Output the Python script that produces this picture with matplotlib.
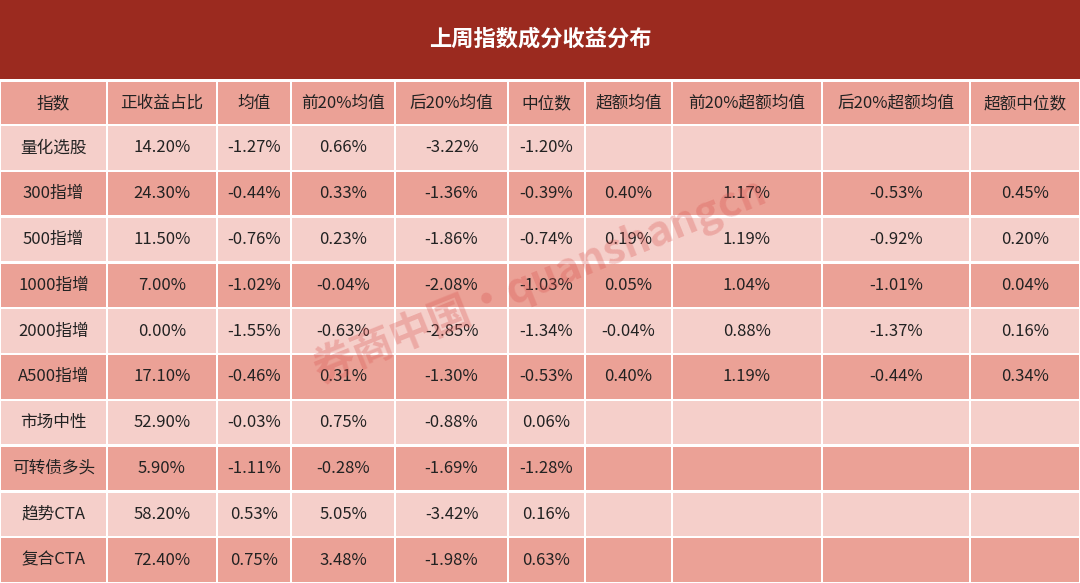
import matplotlib
matplotlib.use('Agg')
import matplotlib.pyplot as plt
from matplotlib.patches import Rectangle

plt.rcParams['font.family'] = ['Noto Sans CJK SC', 'DejaVu Sans']

title = "上周指数成分收益分布"
headers = ["指数", "正收益占比", "均值", "前20%均值", "后20%均值", "中位数",
           "超额均值", "前20%超额均值", "后20%超额均值", "超额中位数"]
names = ["量化选股", "300指增", "500指增", "1000指增", "2000指增", "A500指增",
         "市场中性", "可转债多头", "趋势CTA", "复合CTA"]
pos_ratio = ["14.20%", "24.30%", "11.50%", "7.00%", "0.00%", "17.10%", "52.90%", "5.90%", "58.20%", "72.40%"]
mean = ["-1.27%", "-0.44%", "-0.76%", "-1.02%", "-1.55%", "-0.46%", "-0.03%", "-1.11%", "0.53%", "0.75%"]
top20 = ["0.66%", "0.33%", "0.23%", "-0.04%", "-0.63%", "0.31%", "0.75%", "-0.28%", "5.05%", "3.48%"]
bot20 = ["-3.22%", "-1.36%", "-1.86%", "-2.08%", "-2.85%", "-1.30%", "-0.88%", "-1.69%", "-3.42%", "-1.98%"]
median = ["-1.20%", "-0.39%", "-0.74%", "-1.03%", "-1.34%", "-0.53%", "0.06%", "-1.28%", "0.16%", "0.63%"]
ex_mean = ["", "0.40%", "0.19%", "0.05%", "-0.04%", "0.40%", "", "", "", ""]
ex_top20 = ["", "1.17%", "1.19%", "1.04%", "0.88%", "1.19%", "", "", "", ""]
ex_bot20 = ["", "-0.53%", "-0.92%", "-1.01%", "-1.37%", "-0.44%", "", "", "", ""]
ex_median = ["", "0.45%", "0.20%", "0.04%", "0.16%", "0.34%", "", "", "", ""]
columns = [names, pos_ratio, mean, top20, bot20, median, ex_mean, ex_top20, ex_bot20, ex_median]

col_edges = [0, 107, 217, 291, 395, 508, 585, 672, 822, 970, 1080]
title_h = 79
header_top, header_bot = 82, 125
row_h = (583 - header_bot) / len(names)

dark_red = "#9B2A1F"
salmon = "#EBA196"
light = "#F5CFCA"

fig = plt.figure(figsize=(10.8, 5.83), dpi=100)
ax = fig.add_axes([0, 0, 1, 1])
ax.set_xlim(0, 1080)
ax.set_ylim(583, 0)
ax.axis('off')
fig.patch.set_facecolor('white')

ax.add_patch(Rectangle((0, 0), 1080, title_h, facecolor=dark_red, edgecolor='none'))
ax.text(540, title_h / 2, title, color='white', fontsize=16, fontweight='bold', ha='center', va='center')

gap = 1.2
for j in range(len(headers)):
    x0, x1 = col_edges[j], col_edges[j + 1]
    ax.add_patch(Rectangle((x0 + gap, header_top), x1 - x0 - 2 * gap, header_bot - header_top - gap,
                           facecolor=salmon, edgecolor='none'))
    ax.text((x0 + x1) / 2, (header_top + header_bot) / 2, headers[j], fontsize=12,
            ha='center', va='center', color='#222222')

for i in range(len(names)):
    y0 = header_bot + i * row_h
    color = light if i % 2 == 0 else salmon
    for j, col in enumerate(columns):
        x0, x1 = col_edges[j], col_edges[j + 1]
        ax.add_patch(Rectangle((x0 + gap, y0 + gap), x1 - x0 - 2 * gap, row_h - 2 * gap,
                               facecolor=color, edgecolor='none'))
        ax.text((x0 + x1) / 2, y0 + row_h / 2, col[i], fontsize=12,
                ha='center', va='center', color='#222222')

# watermark
ax.text(540, 280, "券商中国·quanshangcn", fontsize=30, fontweight='bold', color='#D9534F',
        alpha=0.3, rotation=22, ha='center', va='center')

fig.savefig("out.png", dpi=100)
